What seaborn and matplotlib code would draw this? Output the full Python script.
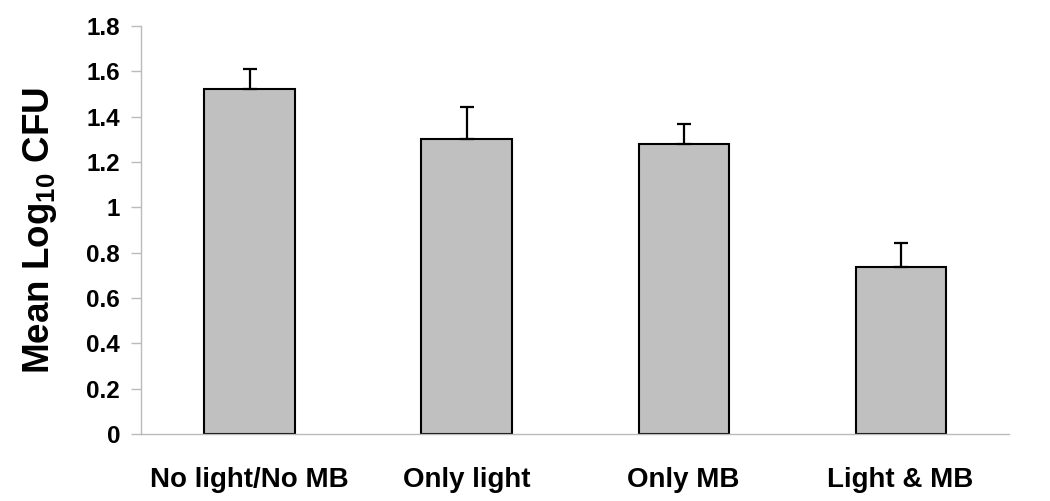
import numpy as np
import pandas as pd
import matplotlib
matplotlib.use("Agg")
import matplotlib.pyplot as plt
import seaborn as sns

categories = ["No light/No MB", "Only light", "Only MB", "Light & MB"]
means = [1.522, 1.303, 1.281, 0.735]
errors = [0.088, 0.141, 0.085, 0.109]
yticks = [0, 0.2, 0.4, 0.6, 0.8, 1, 1.2, 1.4, 1.6, 1.8]
ytick_labels = ["0", "0.2", "0.4", "0.6", "0.8", "1", "1.2", "1.4", "1.6", "1.8"]

sns.set_theme(style="white")
plt.rcParams['font.family'] = ['Liberation Sans', 'DejaVu Sans']
plt.rcParams['font.weight'] = 'bold'
plt.rcParams['text.color'] = 'black'
plt.rcParams['axes.labelcolor'] = 'black'
plt.rcParams['xtick.labelcolor'] = 'black'
plt.rcParams['ytick.labelcolor'] = 'black'
plt.rcParams['mathtext.fontset'] = 'custom'
plt.rcParams['mathtext.rm'] = 'Liberation Sans:bold'
plt.rcParams['mathtext.bf'] = 'Liberation Sans:bold'
plt.rcParams['mathtext.it'] = 'Liberation Sans:bold'
plt.rcParams['mathtext.default'] = 'bf'

df = pd.DataFrame({"cat": categories, "mean": means})

fig = plt.figure(figsize=(10.5, 5.01), dpi=100)
ax = fig.add_axes([0.1343, 0.1337, 0.961 - 0.1343, 0.948 - 0.1337])

sns.barplot(data=df, x="cat", y="mean", color="#C0C0C0", saturation=1,
            width=0.415, edgecolor="black", linewidth=1.5, errorbar=None, ax=ax)

xs = np.arange(len(categories))
ax.errorbar(xs, means, yerr=[np.zeros(len(errors)), errors], fmt="none",
            ecolor="black", elinewidth=1.6, capsize=4.8, capthick=1.6, zorder=1)

ax.set_xlim(-0.5, len(categories) - 0.5)
ax.set_ylim(0, 1.8)
ax.set_yticks(yticks)
ax.set_yticklabels(ytick_labels, fontsize=17.5, fontweight='bold', color='black')
ax.set_xticks(xs)
ax.set_xticklabels(categories, fontsize=20, fontweight='bold', color='black')
ax.set_xticks(np.arange(len(categories) + 1) - 0.5, minor=True)

ax.tick_params(axis='x', which='major', length=0, pad=24)
ax.tick_params(axis='x', which='minor', length=7, width=1, color='#BBBBBB', direction='out')
ax.tick_params(axis='y', which='major', length=7, width=1, color='#BBBBBB', direction='out', pad=8, left=True)

for s in ['top', 'right']:
    ax.spines[s].set_visible(False)
for s in ['left', 'bottom']:
    ax.spines[s].set_color('#BBBBBB')
    ax.spines[s].set_linewidth(1)

ax.set_xlabel("")
ax.set_ylabel(r"Mean Log$_{10}$ CFU", fontsize=26.5, fontweight='bold', labelpad=20, color='black')

fig.savefig("out.png", dpi=100, facecolor="white")
